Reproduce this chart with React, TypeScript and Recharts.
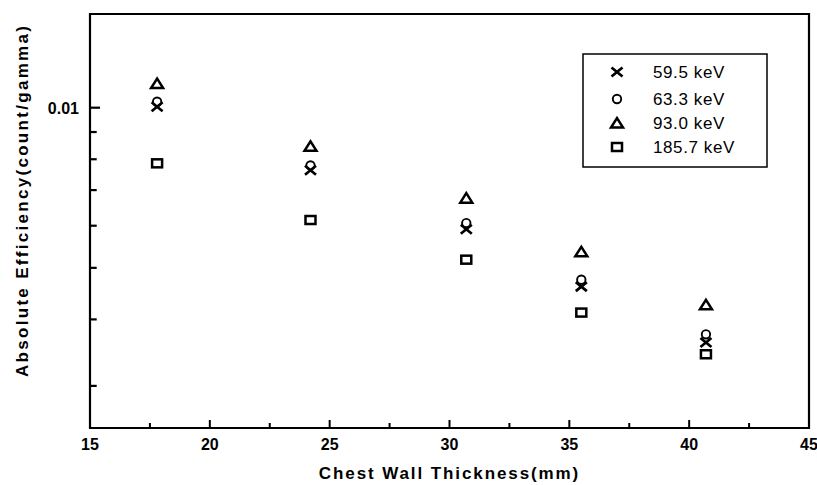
import { ScatterChart, Scatter, XAxis, YAxis, ReferenceArea, ReferenceLine } from 'recharts';

// Chest wall thickness (mm) and absolute efficiency (count/gamma)
const thickness = [17.8, 24.2, 30.7, 35.5, 40.7];
const eff595 = [0.01004, 0.00763, 0.00591, 0.00461, 0.00362];
const eff633 = [0.01026, 0.00779, 0.00607, 0.00475, 0.00375];
const eff930 = [0.0111, 0.00846, 0.00676, 0.00536, 0.00426];
const eff1857 = [0.00786, 0.00615, 0.00518, 0.00412, 0.00344];
const seriesNames = ['59.5 keV', '63.3 keV', '93.0 keV', '185.7 keV'];

const xTicks = [15, 17.5, 20, 22.5, 25, 27.5, 30, 32.5, 35, 37.5, 40, 42.5, 45];
const xMajor = [15, 20, 25, 30, 35, 40, 45];
const yTicks = [0.003, 0.004, 0.005, 0.006, 0.007, 0.008, 0.009, 0.01];
const yMajor = [0.01];

const FONT = '"Liberation Sans", Arial, sans-serif';

const toPoints = (ys: number[]) => thickness.map((x, i) => ({ x, y: ys[i] }));

function Cross({ cx, cy }: any) {
  return (
    <g stroke="#000" strokeWidth={2.7} strokeLinecap="butt">
      <line x1={cx - 5.5} y1={cy - 4.5} x2={cx + 5.5} y2={cy + 4.5} />
      <line x1={cx - 5.5} y1={cy + 4.5} x2={cx + 5.5} y2={cy - 4.5} />
    </g>
  );
}

function Ring({ cx, cy }: any) {
  return <circle cx={cx} cy={cy} r={4.2} fill="none" stroke="#000" strokeWidth={1.9} />;
}

function Tri({ cx, cy }: any) {
  return (
    <polygon
      points={`${cx - 6},${cy + 4.5} ${cx + 6},${cy + 4.5} ${cx},${cy - 5}`}
      fill="none"
      stroke="#000"
      strokeWidth={2.5}
      strokeLinejoin="miter"
    />
  );
}

function Box({ cx, cy }: any) {
  return <rect x={cx - 5} y={cy - 4} width={10} height={8} fill="none" stroke="#000" strokeWidth={2.5} />;
}

const shapes = [Cross, Ring, Tri, Box];

function XTick({ x, y, payload }: any) {
  const major = xMajor.includes(payload.value);
  return (
    <g>
      <line x1={x} y1={y} x2={x} y2={y - (major ? 8 : 5)} stroke="#000" strokeWidth={2} />
      {major && (
        <text x={x} y={y + 22} textAnchor="middle" fontFamily={FONT} fontWeight="bold" fontSize={16} fill="#000">
          {payload.value}
        </text>
      )}
    </g>
  );
}

function YTick({ x, y, payload }: any) {
  return (
    <text x={x - 11} y={y + 6} textAnchor="end" fontFamily={FONT} fontWeight="bold" fontSize={16} fill="#000">
      {payload.value}
    </text>
  );
}

// legend box, drawn over the plot at the same place as in the source figure
function LegendBox() {
  const rows = [73, 100, 124, 148];
  return (
    <svg width={186} height={115} style={{ position: 'absolute', left: 582, top: 53, display: 'block' }}>
      <rect x={1} y={1} width={184} height={113} fill="#fff" stroke="#000" strokeWidth={1.5} />
      {seriesNames.map((name, i) => {
        const Shape = shapes[i];
        const cy = rows[i] - 54;
        return (
          <g key={name}>
            <Shape cx={35} cy={cy} />
            <text x={71} y={cy + 6} fontFamily={FONT} fontSize={17} fill="#000" letterSpacing={0.6}>
              {name}
            </text>
          </g>
        );
      })}
    </svg>
  );
}

export default function App() {
  const series = [eff595, eff633, eff930, eff1857];
  return (
    <div style={{ position: 'absolute', left: 0, top: 0, width: 817, height: 485, background: '#fff' }}>
      <ScatterChart width={817} height={485} margin={{ top: 14, right: 8, left: 30, bottom: 27 }}>
        <XAxis
          type="number"
          dataKey="x"
          domain={[15, 45]}
          ticks={xTicks}
          interval={0}
          tickSize={0}
          tickMargin={0}
          tickLine={false}
          axisLine={false}
          height={30}
          tick={<XTick />}
          label={{
            value: 'Chest Wall Thickness(mm)',
            position: 'insideBottom',
            offset: -21,
            style: { fontFamily: FONT, fontWeight: 'bold', fontSize: 17, fill: '#000', letterSpacing: 1.9 },
          }}
        />
        <YAxis
          type="number"
          dataKey="y"
          scale="log"
          domain={[0.0025, 0.015]}
          allowDataOverflow
          ticks={yMajor}
          interval={0}
          tickSize={0}
          tickMargin={0}
          tickLine={false}
          axisLine={false}
          width={60}
          tick={<YTick />}
          label={{
            value: 'Absolute Efficiency(count/gamma)',
            angle: -90,
            position: 'insideLeft',
            offset: -8,
            dy: 156,
            style: { fontFamily: FONT, fontWeight: 'bold', fontSize: 17, fill: '#000', letterSpacing: 2.3 },
          }}
        />
        {/* inward y ticks on the log axis */}
        {yTicks.map((v) => (
          <ReferenceLine
            key={v}
            segment={[
              { x: 15, y: v },
              { x: yMajor.includes(v) ? 15.42 : 15.28, y: v },
            ]}
            stroke="#000"
            strokeWidth={2.2}
          />
        ))}
        <ReferenceArea x1={15} x2={45} y1={0.0025} y2={0.015} fill="none" stroke="#000" strokeWidth={2.2} />
        {series.map((ys, i) => (
          <Scatter
            key={seriesNames[i]}
            name={seriesNames[i]}
            data={toPoints(ys)}
            shape={shapes[i]}
            isAnimationActive={false}
          />
        ))}
      </ScatterChart>
      <LegendBox />
    </div>
  );
}
